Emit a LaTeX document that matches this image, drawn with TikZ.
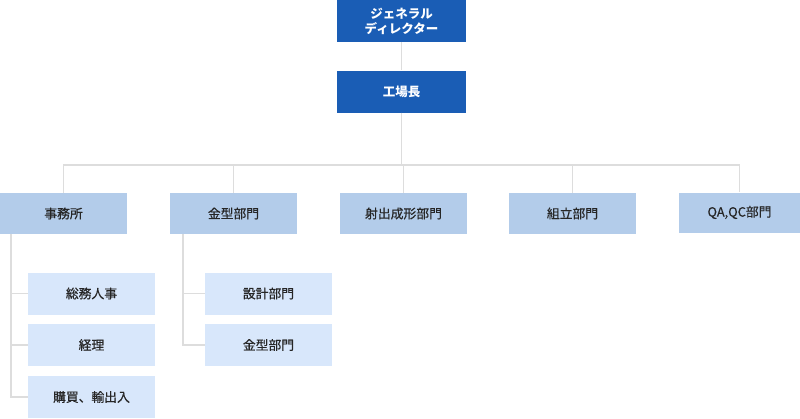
\documentclass[tikz,border=0pt]{standalone}
\usepackage{fontspec}
\setmainfont{Noto Sans CJK JP}
\newfontfamily\jpmed[FakeBold=0.6]{Noto Sans CJK JP}
\definecolor{topblue}{HTML}{1A5DB5}
\definecolor{midblue}{HTML}{B3CCEA}
\definecolor{lowblue}{HTML}{D8E7FB}
\definecolor{linegray}{HTML}{DDDDDD}
\begin{document}
\begin{tikzpicture}[x=1pt,y=-1pt,
  topbox/.style={fill=topblue,text=white,minimum width=129pt,minimum height=42pt,inner sep=0pt,align=center,font=\fontsize{12.5}{15}\selectfont\bfseries},
  midbox/.style={fill=midblue,text=black!85,minimum width=127pt,minimum height=41pt,inner sep=0pt,font=\jpmed\fontsize{12.8}{15}\selectfont},
  lowbox/.style={fill=lowblue,text=black!85,minimum width=127pt,minimum height=42pt,inner sep=0pt,font=\jpmed\fontsize{12.8}{15}\selectfont},
  conn/.style={draw=linegray,line width=1.2pt}]
\useasboundingbox (0,0) rectangle (800,418);
\node[topbox] (gd) at (401.5,21) {ジェネラル\\ディレクター};
\node[topbox] (fm) at (401.5,91.5) {工場長};
\node[midbox] (m1) at (63.5,213.5) {事務所};
\node[midbox] (m2) at (233.5,213.5) {金型部門};
\node[midbox] (m3) at (403.5,213.5) {射出成形部門};
\node[midbox] (m4) at (572.5,213.5) {組立部門};
\node[midbox,minimum width=121pt,minimum height=40pt] (m5) at (739.5,212.5) {QA,QC部門};
\node[lowbox] (a1) at (91.5,293.5) {総務人事};
\node[lowbox] (a2) at (91.5,345) {経理};
\node[lowbox] (a3) at (91.5,397) {購買、輸出入};
\node[lowbox] (b1) at (268.5,293.5) {設計部門};
\node[lowbox] (b2) at (268.5,345) {金型部門};
\coordinate (hy) at (0,165);
\draw[conn] (gd.south) -- (fm.north);
\draw[conn] (fm.south) -- (fm.south |- hy);
\draw[conn] (m1.north) -- (m1.north |- hy) -- (m5.north |- hy) -- (m5.north);
\draw[conn] (m2.north) -- (m2.north |- hy);
\draw[conn] (m3.north) -- (m3.north |- hy);
\draw[conn] (m4.north) -- (m4.north |- hy);
\coordinate (ax) at (11,0);
\coordinate (bx) at (183,0);
\draw[conn] (ax |- m1.south) -- (ax |- a3.west) -- (a3.west);
\draw[conn] (ax |- a1.west) -- (a1.west);
\draw[conn] (ax |- a2.west) -- (a2.west);
\draw[conn] (bx |- m2.south) -- (bx |- b2.west) -- (b2.west);
\draw[conn] (bx |- b1.west) -- (b1.west);
\end{tikzpicture}
\end{document}
